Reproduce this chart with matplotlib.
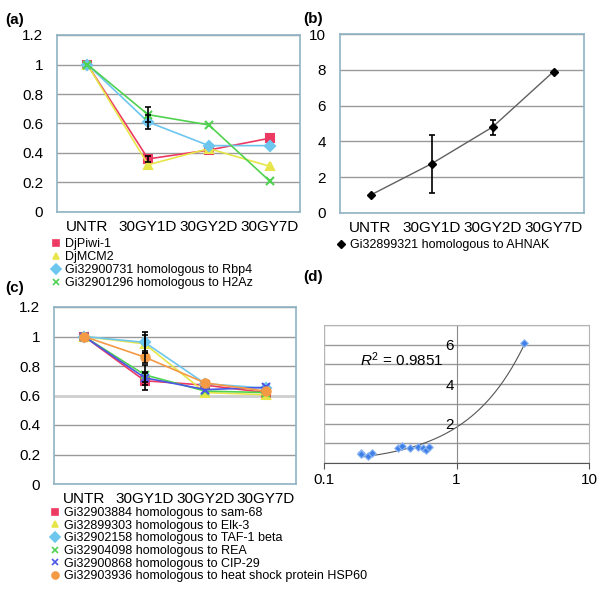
import numpy as np
import matplotlib
matplotlib.use('Agg')
import matplotlib.pyplot as plt
from matplotlib.lines import Line2D

plt.rcParams['font.family'] = ['Liberation Sans', 'DejaVu Sans']
plt.rcParams['mathtext.fontset'] = 'custom'
plt.rcParams['mathtext.rm'] = 'Liberation Sans'
plt.rcParams['mathtext.it'] = 'Liberation Sans:italic'

groups = ['UNTR', '30GY1D', '30GY2D', '30GY7D']

# panel (a)
a_names = ['DjPiwi-1', 'DjMCM2', 'Gi32900731 homologous to Rbp4', 'Gi32901296 homologous to H2Az']
a_vals = [[1, 0.36, 0.42, 0.50],
          [1, 0.32, 0.43, 0.31],
          [1, 0.61, 0.45, 0.45],
          [1, 0.66, 0.59, 0.21]]
a_err = [[0, 0.02, 0, 0],
         [0, 0, 0, 0],
         [0, 0.05, 0, 0],
         [0, 0.05, 0, 0]]

# panel (b)
b_name = 'Gi32899321 homologous to AHNAK'
b_vals = [1.0, 2.75, 4.8, 7.9]
b_err = [0, 1.63, 0.42, 0]

# panel (c)
c_names = ['Gi32903884 homologous to sam-68', 'Gi32899303 homologous to Elk-3',
           'Gi32902158 homologous to TAF-1 beta', 'Gi32904098 homologous to REA',
           'Gi32900868 homologous to CIP-29', 'Gi32903936 homologous to heat shock protein HSP60']
c_vals = [[1, 0.70, 0.67, 0.62],
          [1, 0.95, 0.62, 0.605],
          [1, 0.96, 0.68, 0.65],
          [1, 0.74, 0.63, 0.62],
          [1, 0.72, 0.64, 0.655],
          [1, 0.86, 0.685, 0.63]]
c_err = [[0, 0.06, 0, 0],
         [0, 0.06, 0, 0],
         [0, 0.07, 0, 0],
         [0, 0.07, 0, 0],
         [0, 0.03, 0, 0],
         [0, 0.04, 0, 0]]

# panel (d)
d_x = [0.19, 0.19, 0.215, 0.229, 0.364, 0.39, 0.446, 0.509, 0.556, 0.589, 0.62, 3.23]
d_y = [0.49, 0.44, 0.37, 0.49, 0.78, 0.86, 0.78, 0.83, 0.78, 0.66, 0.83, 6.07]
d_r2 = 0.9851

colors = ['#ec3a62', '#e6e64a', '#6cc6ee', '#4fd24f', '#4a56e6', '#f49a44']
markers = ['s', '^', 'D', 'x', 'x', 'o']
msizes = [6, 6, 5, 6, 6, 6]
frame = '#8fb3c2'
grid = '#9a9a9a'

fig = plt.figure(figsize=(6, 6), dpi=100)


def px_axes(l, r, t, b):
    return fig.add_axes([l / 600, 1 - b / 600, (r - l) / 600, (b - t) / 600])


def style_cat(ax, ymax, step, fmt):
    ax.set_xlim(-0.5, 3.5)
    ax.set_ylim(0, ymax)
    ax.set_yticks(np.arange(0, ymax + step / 2, step))
    ax.set_yticklabels([fmt(v) for v in np.arange(0, ymax + step / 2, step)])
    ax.set_xticks(range(len(groups)))
    ax.set_xticklabels(groups)
    ax.tick_params(length=0, labelsize=11, pad=6)
    ax.tick_params(axis='y', pad=10)
    for s in ax.spines.values():
        s.set_color(frame)
        s.set_linewidth(1.2)
    ax.yaxis.grid(True, color=grid, lw=1)
    ax.set_axisbelow(True)


def draw_series(ax, vals, errs, n):
    handles = []
    for i in range(n):
        c = colors[i]
        ax.plot(range(len(groups)), vals[i], color=c, lw=1.2, marker=markers[i],
                ms=msizes[i], mec=c, mfc=c, mew=1.5, zorder=3)
        e = np.array(errs[i])
        if e.any():
            idx = np.nonzero(e)[0]
            ax.errorbar(idx, np.array(vals[i])[idx], yerr=e[idx], fmt='none',
                        ecolor='black', elinewidth=1.2, capsize=2.5, capthick=1.2, zorder=4)
        handles.append(Line2D([], [], ls='none', marker=markers[i], ms=5, color=c, mew=1.2))
    return handles


fmt_a = lambda v: ('%g' % round(v, 1))

# (a)
ax_a = px_axes(57, 300, 35, 212)
style_cat(ax_a, 1.2, 0.2, fmt_a)
h = draw_series(ax_a, a_vals, a_err, 4)
fig.legend(h, a_names, loc='upper left', bbox_to_anchor=(51 / 600, 1 - 238 / 600),
           frameon=False, fontsize=9, handlelength=0.8, handletextpad=0.3,
           labelspacing=0.08, borderpad=0, borderaxespad=0)

# (b)
ax_b = px_axes(340, 584, 34, 213)
style_cat(ax_b, 10, 2, lambda v: '%d' % v)
ax_b.plot(range(len(groups)), b_vals, color='#606060', lw=1, marker='D', ms=4,
          mfc='black', mec='black', zorder=3)
ax_b.errorbar(range(len(groups)), b_vals, yerr=b_err, fmt='none', ecolor='black',
              elinewidth=1.2, capsize=2.5, capthick=1.2, zorder=4)
fig.legend([Line2D([], [], ls='none', marker='D', ms=4, color='black')], [b_name],
           loc='upper left', bbox_to_anchor=(336 / 600, 1 - 239 / 600), frameon=False,
           fontsize=9, handlelength=0.8, handletextpad=0.3, borderpad=0, borderaxespad=0)

# (c)
ax_c = px_axes(54, 296, 307, 484)
style_cat(ax_c, 1.2, 0.2, fmt_a)
ax_c.axhline(0.6, color='#cfcfcf', lw=2, zorder=1)
h = draw_series(ax_c, c_vals, c_err, 6)
fig.legend(h, c_names, loc='upper left', bbox_to_anchor=(50 / 600, 1 - 507 / 600),
           frameon=False, fontsize=9, handlelength=0.8, handletextpad=0.3,
           labelspacing=0.05, borderpad=0, borderaxespad=0)

# (d)
ax_d = px_axes(324, 589, 325, 463)
ax_d.set_xscale('log')
ax_d.set_xlim(0.1, 10)
ax_d.set_ylim(0, 7)
ax_d.set_yticks(range(0, 8))
ax_d.set_yticklabels(['' if v % 2 or v == 0 else str(v) for v in range(0, 8)])
ax_d.set_xticks([0.1, 1, 10])
ax_d.set_xticklabels(['0.1', '1', '10'])
ax_d.xaxis.set_minor_locator(matplotlib.ticker.NullLocator())
ax_d.yaxis.grid(True, color=grid, lw=1)
ax_d.set_axisbelow(True)
ax_d.spines['left'].set_position(('data', 1))
ax_d.spines['left'].set_color('#8a8a8a')
for s in ['top', 'right']:
    ax_d.spines[s].set_color('#b5b5b5')
ax_d.spines['bottom'].set_color('#555555')
ax_d.axvline(0.1, color='#b5b5b5', lw=1)
ax_d.tick_params(axis='y', length=0, labelsize=11, pad=2)
ax_d.tick_params(axis='x', length=4, direction='out', labelsize=11, pad=3, color='#555555')

# linear trendline (curved on the log x axis)
m, c0 = np.polyfit(d_x, d_y, 1)
xs = np.logspace(np.log10(min(d_x)), np.log10(max(d_x)), 200)
ax_d.plot(xs, m * xs + c0, color='#555555', lw=0.8, zorder=2)
ax_d.scatter(d_x, d_y, marker='D', s=15, color='#3f7fe6', edgecolors='#8fb8f5',
             linewidths=0.8, zorder=3)
ax_d.text(0.80, 5.25, r'$R^2$ = %.4f' % d_r2, ha='right', va='center', fontsize=11)

# panel letters
for lab, x, y in [('(a)', 5, 20), ('(b)', 303, 19), ('(c)', 5, 288), ('(d)', 303, 277)]:
    fig.text(x / 600, 1 - y / 600, lab, fontsize=11, fontweight='bold', va='center')

fig.savefig('out.png', dpi=100)
